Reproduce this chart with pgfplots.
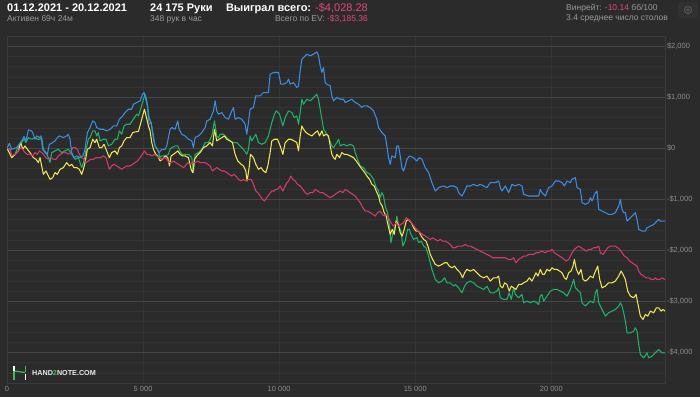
\documentclass[border=0pt]{standalone}
\usepackage{pgfplots}
\pgfplotsset{compat=1.18}
\usepackage{fontspec}
\setmainfont{Liberation Sans}
\definecolor{bg}{HTML}{2B2B2B}
\definecolor{minorc}{HTML}{333333}
\definecolor{majc}{HTML}{464646}
\definecolor{zeroc}{HTML}{7E7E7E}
\definecolor{vgrid}{HTML}{353535}
\definecolor{framec}{HTML}{3A3A3A}
\definecolor{sub}{HTML}{9A9A9A}
\definecolor{tickc}{HTML}{8C8C8C}
\definecolor{neg}{HTML}{E8457A}
\definecolor{cblue}{HTML}{3A8EE6}
\definecolor{cgreen}{HTML}{1DB36B}
\definecolor{cyellow}{HTML}{F2E94E}
\definecolor{cpink}{HTML}{D63A6A}
\definecolor{logogreen}{HTML}{3DBE4E}
\begin{document}
\begin{tikzpicture}[x=1pt,y=1pt]
\useasboundingbox (0,0) rectangle (700,397);
\fill[bg] (0,0) rectangle (700,397);
% header
\node[anchor=base west, inner sep=0, text=white, font=\bfseries\fontsize{11}{13}\selectfont] at (7,385) {01.12.2021 - 20.12.2021};
\node[anchor=base west, inner sep=0, text=sub, font=\fontsize{8.5}{10}\selectfont] at (7,375) {Активен 69ч 24м};
\node[anchor=base west, inner sep=0, text=white, font=\bfseries\fontsize{11}{13}\selectfont] at (150,385) {24 175 Руки};
\node[anchor=base west, inner sep=0, text=sub, font=\fontsize{8.5}{10}\selectfont] at (150,375) {348 рук в час};
\node[anchor=base east, inner sep=0, text=white, font=\fontsize{11}{13}\selectfont] at (368,385) {\textbf{Выиграл всего:} \textcolor{neg}{-\$4,028.28}};
\node[anchor=base east, inner sep=0, text=sub, font=\fontsize{8.5}{10}\selectfont] at (368,375) {Всего по EV: \textcolor{neg}{-\$3,185.36}};
\node[anchor=base west, inner sep=0, text=sub, font=\fontsize{8.5}{10}\selectfont] at (566,386) {Винрейт: \textcolor{neg}{-10.14} бб/100};
\node[anchor=base west, inner sep=0, text=sub, font=\fontsize{8.5}{10}\selectfont] at (566,376) {3.4 среднее число столов};
% gear
\fill[rounded corners=2pt, fill=white, fill opacity=0.03] (678,379) rectangle (698,395);
\draw[draw=white!22!bg, line width=0.8pt] (688,387) circle (3.6);
\draw[draw=white!22!bg, line width=0.7pt] (688,387) circle (1.4);
\begin{axis}[
  at={(7pt,14pt)}, anchor=south west,
  scale only axis, width=658pt, height=347pt,
  xmin=0, xmax=24175, ymin=-4600, ymax=2200,
  axis line style={draw=framec, line width=0.6pt},
  major tick length=0pt, minor tick length=0pt,
  xtick={0,5000,10000,15000,20000},
  xticklabels={0,5 000,10 000,15 000,20 000},
  ytick={-4000,-3000,-2000,-1000,1000,2000},
  yticklabels={{-\$4,000},{-\$3,000},{-\$2,000},{-\$1,000},{\$1,000},{\$2,000}},
  extra y ticks={0},
  extra y tick labels={\$0},
  extra y tick style={grid=major, major grid style={draw=zeroc, line width=1pt}},
  minor ytick={-4600,-4400,...,2200},
  xmajorgrids, ymajorgrids, yminorgrids,
  major x grid style={draw=vgrid, line width=0.6pt},
  major y grid style={draw=majc, line width=0.9pt},
  minor y grid style={draw=minorc, line width=0.6pt},
  yticklabel pos=right,
  tick label style={text=tickc, font=\fontsize{7.5}{9}\selectfont},
  yticklabel style={anchor=west, xshift=-1.5pt},
  xticklabel style={inner sep=1pt, yshift=-2pt},
  every axis plot/.append style={line width=1.05pt, line join=round, mark=none},
  clip=true,
]
% green
\addplot[cgreen] coordinates {(0,0) (111,-20) (172,-183) (294,-118) (417,46) (539,111) (625,177) (698,111) (784,209) (907,177) (1029,209) (1115,177) (1213,177) (1274,209) (1336,-20) (1433,-85) (1519,-183) (1581,-281) (1642,-85) (1764,-52) (1887,-20) (2009,-85) (2132,-52) (2254,-20) (2377,-118) (2499,-216) (2622,-183) (2744,-379) (2830,-249) (2904,-20) (2989,177) (3051,209) (3149,340) (3234,340) (3296,242) (3357,307) (3418,144) (3540,177) (3639,177) (3724,46) (3847,78) (3969,177) (4055,177) (4129,340) (4214,275) (4300,438) (4398,471) (4520,471) (4643,569) (4766,667) (4829,634) (4927,798) (5012,961) (5074,1059) (5135,929) (5221,602) (5294,504) (5380,177) (5441,46) (5539,-20) (5625,-183) (5686,-150) (5809,-150) (5931,-118) (5992,-20) (6054,13) (6176,46) (6274,46) (6323,-20) (6421,-118) (6544,-118) (6666,-118) (6789,-183) (6850,-477) (6911,-118) (7034,-85) (7156,-20) (7279,111) (7401,111) (7524,242) (7622,536) (7707,242) (7769,209) (7830,275) (7953,275) (8075,209) (8198,144) (8320,111) (8443,111) (8565,46) (8688,-20) (8810,-118) (8871,-20) (8932,242) (8994,144) (9141,275) (9239,111) (9361,78) (9484,111) (9606,242) (9729,504) (9827,667) (9890,732) (10012,667) (10135,438) (10220,602) (10343,732) (10465,700) (10551,602) (10649,634) (10710,471) (10772,700) (10833,961) (10894,863) (11017,961) (11139,929) (11262,994) (11384,1059) (11445,961) (11507,765) (11568,569) (11629,373) (11752,275) (11813,209) (11935,46) (11997,13) (12119,111) (12181,177) (12242,46) (12364,78) (12487,46) (12609,78) (12732,46) (12793,-85) (12879,-216) (12977,-347) (13099,-379) (13222,-477) (13344,-510) (13467,-608) (13565,-772) (13650,-837) (13712,-968) (13773,-870) (13834,-935) (13895,-1131) (13981,-1262) (14054,-1524) (14104,-1851) (14177,-1655) (14263,-1524) (14324,-1328) (14385,-1524) (14471,-1622) (14544,-1917) (14630,-1818) (14716,-1589) (14790,-1589) (14816,-1655) (14938,-1786) (15061,-1753) (15122,-1851) (15220,-1818) (15306,-1917) (15392,-1949) (15490,-2113) (15612,-2374) (15735,-2570) (15857,-2636) (15980,-2603) (16078,-2538) (16163,-2636) (16286,-2636) (16408,-2701) (16470,-2669) (16592,-2734) (16715,-2832) (16813,-2701) (16898,-2636) (17021,-2603) (17143,-2636) (17266,-2701) (17388,-2734) (17511,-2766) (17633,-2701) (17756,-2832) (17878,-2832) (18001,-2799) (18062,-2734) (18123,-2930) (18246,-2962) (18368,-2962) (18454,-2832) (18528,-2962) (18613,-2734) (18675,-2864) (18797,-2930) (18920,-2864) (18981,-3028) (19104,-2995) (19226,-3028) (19348,-2995) (19471,-3028) (19532,-3060) (19593,-2897) (19655,-2864) (19718,-2995) (19840,-2897) (19963,-2799) (20085,-2766) (20208,-2766) (20330,-2799) (20453,-2832) (20575,-2897) (20698,-2766) (20820,-2570) (20881,-2734) (20943,-2766) (21065,-2832) (21126,-3028) (21249,-3093) (21371,-3028) (21433,-2995) (21555,-3028) (21616,-2832) (21678,-2766) (21739,-3028) (21861,-3158) (21984,-3289) (22106,-3224) (22229,-3191) (22351,-3158) (22474,-3093) (22535,-3028) (22596,-3093) (22658,-3224) (22719,-3387) (22780,-3616) (22903,-3616) (23025,-3584) (23086,-3518) (23148,-3584) (23209,-3845) (23270,-4041) (23393,-4107) (23515,-4009) (23576,-4107) (23699,-4074) (23821,-4009) (23944,-3943) (24066,-4009) (24175,-4009)};
% yellow
\addplot[cyellow] coordinates {(0,0) (111,-118) (172,-183) (294,-118) (417,-52) (503,111) (576,-20) (662,46) (748,-20) (846,-85) (968,-183) (1066,-216) (1152,-281) (1213,-183) (1274,-347) (1336,-510) (1433,-445) (1519,-543) (1581,-608) (1679,-576) (1764,-477) (1850,-510) (1948,-412) (2071,-379) (2193,-281) (2291,-347) (2377,-314) (2463,-379) (2561,-379) (2659,-412) (2744,-510) (2806,-412) (2867,-281) (2953,-20) (3051,13) (3149,177) (3234,111) (3296,177) (3394,13) (3479,13) (3565,78) (3663,-52) (3761,-183) (3847,-85) (3969,-52) (4055,-118) (4129,13) (4214,46) (4300,144) (4398,209) (4520,209) (4619,307) (4704,320) (4829,330) (4951,569) (5049,765) (5110,634) (5196,438) (5257,340) (5319,111) (5380,-20) (5466,-118) (5539,-150) (5625,-249) (5711,-216) (5809,-150) (5907,-183) (5968,-347) (6029,-150) (6115,-118) (6201,-85) (6274,-52) (6360,-118) (6446,-150) (6544,-150) (6666,-183) (6764,-412) (6825,-477) (6887,-216) (6973,-150) (7095,-85) (7217,13) (7340,46) (7462,111) (7548,46) (7622,373) (7707,144) (7793,177) (7891,209) (7989,242) (8075,177) (8198,144) (8283,111) (8381,-118) (8479,-249) (8602,-314) (8688,-347) (8773,-445) (8822,-641) (8896,-379) (8945,-118) (9055,-183) (9141,-314) (9239,-412) (9337,-379) (9422,-445) (9508,-477) (9582,-347) (9667,-85) (9729,144) (9827,177) (9939,177) (10037,46) (10135,-118) (10220,111) (10343,177) (10429,177) (10551,144) (10649,111) (10710,-52) (10772,242) (10833,438) (10894,373) (10992,307) (11078,275) (11200,242) (11323,307) (11409,340) (11482,242) (11568,340) (11629,242) (11727,275) (11813,242) (11874,46) (11935,-118) (11997,-183) (12058,-216) (12119,-118) (12217,-183) (12303,-85) (12389,-118) (12487,-118) (12609,-150) (12732,-183) (12830,-249) (12915,-314) (13001,-379) (13099,-445) (13222,-543) (13320,-608) (13405,-706) (13491,-739) (13565,-837) (13650,-935) (13712,-1066) (13785,-1131) (13858,-1262) (13932,-1328) (14006,-1524) (14079,-1687) (14153,-1589) (14226,-1687) (14300,-1426) (14373,-1491) (14447,-1655) (14520,-1720) (14594,-1589) (14667,-1426) (14741,-1393) (14853,-1459) (14938,-1557) (15024,-1622) (15122,-1622) (15220,-1720) (15306,-1786) (15392,-1818) (15465,-1917) (15551,-2080) (15637,-2178) (15735,-2276) (15857,-2309) (15980,-2276) (16078,-2243) (16163,-2243) (16249,-2309) (16347,-2342) (16445,-2309) (16531,-2374) (16653,-2440) (16739,-2538) (16813,-2440) (16898,-2374) (17021,-2407) (17143,-2374) (17266,-2440) (17388,-2505) (17511,-2538) (17633,-2505) (17756,-2603) (17878,-2538) (18001,-2538) (18062,-2505) (18123,-2701) (18209,-2734) (18283,-2636) (18368,-2669) (18454,-2799) (18528,-2701) (18613,-2734) (18699,-2766) (18797,-2669) (18895,-2669) (18981,-2636) (19104,-2603) (19189,-2538) (19287,-2603) (19348,-2538) (19434,-2440) (19508,-2505) (19593,-2374) (19679,-2472) (19742,-2472) (19840,-2374) (19938,-2407) (20024,-2342) (20110,-2374) (20208,-2374) (20306,-2407) (20391,-2440) (20477,-2538) (20551,-2570) (20636,-2440) (20722,-2407) (20796,-2309) (20845,-2178) (20918,-2374) (21004,-2472) (21090,-2374) (21163,-2570) (21249,-2603) (21335,-2570) (21433,-2505) (21531,-2538) (21592,-2440) (21653,-2374) (21702,-2309) (21776,-2570) (21861,-2734) (21984,-2701) (22106,-2636) (22229,-2636) (22351,-2603) (22474,-2505) (22560,-2407) (22633,-2472) (22719,-2570) (22805,-2799) (22903,-2897) (23025,-2930) (23111,-2864) (23172,-3028) (23270,-3289) (23368,-3354) (23454,-3256) (23540,-3289) (23638,-3191) (23760,-3224) (23858,-3126) (23944,-3126) (24030,-3191) (24104,-3158) (24175,-3191)};
% pink
\addplot[cpink] coordinates {(0,0) (111,-20) (172,-150) (294,-118) (417,-52) (503,13) (576,-20) (662,-85) (748,-118) (846,-118) (944,-150) (1029,-85) (1115,-118) (1189,-52) (1274,-85) (1336,-118) (1433,-183) (1519,-216) (1605,-183) (1703,-216) (1801,-216) (1887,-150) (1973,-118) (2071,-85) (2169,-85) (2254,-118) (2340,-85) (2414,13) (2499,13) (2585,-20) (2659,-118) (2744,-183) (2830,-216) (2904,-281) (2989,-249) (3075,-216) (3173,-216) (3271,-183) (3357,-183) (3443,-183) (3540,-150) (3639,-183) (3688,-281) (3761,-412) (3847,-347) (3933,-314) (4031,-347) (4129,-379) (4214,-412) (4300,-379) (4398,-347) (4520,-347) (4619,-314) (4704,-281) (4790,-249) (4890,-183) (4976,-118) (5049,-52) (5135,-118) (5221,-118) (5319,-150) (5417,-118) (5502,-150) (5588,-183) (5686,-216) (5784,-183) (5870,-216) (5956,-281) (6029,-281) (6115,-249) (6201,-281) (6299,-314) (6397,-347) (6482,-379) (6544,-347) (6642,-281) (6727,-314) (6813,-281) (6911,-281) (7009,-249) (7095,-281) (7181,-281) (7279,-281) (7377,-314) (7462,-347) (7548,-445) (7622,-412) (7707,-379) (7793,-412) (7891,-445) (7989,-445) (8075,-477) (8161,-510) (8259,-543) (8332,-510) (8406,-543) (8504,-608) (8602,-641) (8688,-608) (8773,-641) (8871,-608) (8969,-608) (9055,-706) (9141,-837) (9214,-870) (9300,-935) (9386,-1001) (9459,-1033) (9545,-968) (9631,-903) (9729,-837) (9827,-837) (9853,-804) (9939,-804) (10037,-739) (10135,-837) (10220,-739) (10282,-674) (10343,-641) (10429,-543) (10502,-608) (10588,-641) (10674,-706) (10772,-739) (10870,-804) (10955,-870) (11041,-903) (11139,-870) (11237,-870) (11323,-804) (11409,-837) (11507,-870) (11605,-870) (11690,-903) (11776,-935) (11874,-968) (11972,-935) (12058,-903) (12144,-870) (12242,-837) (12340,-870) (12425,-804) (12511,-837) (12609,-870) (12707,-903) (12793,-935) (12879,-1001) (12977,-1066) (13075,-1164) (13160,-1230) (13246,-1230) (13344,-1262) (13442,-1295) (13528,-1328) (13614,-1262) (13712,-1230) (13785,-1295) (13858,-1328) (13932,-1295) (14018,-1360) (14104,-1459) (14202,-1524) (14300,-1459) (14385,-1524) (14471,-1491) (14569,-1459) (14667,-1360) (14741,-1393) (14816,-1426) (14902,-1491) (14999,-1557) (15098,-1622) (15183,-1655) (15269,-1687) (15367,-1720) (15465,-1753) (15551,-1786) (15637,-1753) (15735,-1786) (15833,-1818) (15918,-1786) (16004,-1818) (16102,-1818) (16200,-1851) (16286,-1884) (16372,-1949) (16470,-1949) (16568,-1917) (16653,-1917) (16739,-1917) (16837,-1884) (16935,-1917) (17021,-1917) (17143,-1949) (17266,-1982) (17388,-2015) (17511,-2047) (17633,-2080) (17756,-2113) (17842,-2145) (17940,-2145) (18062,-2145) (18185,-2145) (18307,-2145) (18430,-2178) (18528,-2178) (18613,-2145) (18699,-2243) (18797,-2178) (18895,-2145) (18981,-2113) (19067,-2113) (19165,-2080) (19263,-2080) (19348,-2080) (19434,-2047) (19532,-2047) (19655,-2015) (19779,-2047) (19865,-2015) (19963,-2015) (20024,-1982) (20110,-2047) (20208,-2080) (20306,-2113) (20391,-2145) (20477,-2178) (20551,-2211) (20636,-2178) (20698,-2113) (20759,-2047) (20845,-1982) (20918,-1949) (21004,-1917) (21090,-1949) (21188,-1982) (21286,-2015) (21371,-1982) (21457,-1982) (21555,-1949) (21653,-1949) (21739,-1917) (21800,-2047) (21898,-2080) (21984,-2015) (22069,-1949) (22168,-1917) (22266,-1917) (22351,-1917) (22437,-1949) (22511,-1982) (22596,-2047) (22682,-2113) (22780,-2145) (22878,-2211) (22964,-2243) (23050,-2276) (23148,-2309) (23209,-2407) (23295,-2472) (23393,-2505) (23491,-2538) (23576,-2538) (23662,-2570) (23760,-2570) (23821,-2538) (23883,-2570) (23981,-2570) (24066,-2538) (24151,-2570) (24175,-2570)};
% blue
\addplot[cblue] coordinates {(0,0) (86,98) (172,-20) (356,13) (539,144) (625,229) (698,144) (784,360) (907,340) (968,275) (1029,177) (1090,242) (1189,209) (1250,242) (1311,-20) (1397,-85) (1483,-118) (1556,78) (1642,98) (1764,144) (1850,209) (1924,242) (2071,209) (2193,242) (2254,275) (2315,177) (2377,-85) (2463,-183) (2561,-150) (2683,-183) (2781,-150) (2867,-20) (2953,307) (3051,405) (3149,536) (3234,504) (3296,405) (3418,373) (3540,373) (3663,340) (3786,373) (3908,438) (4031,438) (4129,569) (4251,634) (4337,700) (4459,765) (4582,765) (4643,863) (4766,896) (4890,929) (4976,1059) (5037,1092) (5098,961) (5159,831) (5221,471) (5294,504) (5380,242) (5441,46) (5588,-85) (5686,-20) (5809,-20) (5870,46) (5931,209) (5992,373) (6054,405) (6176,373) (6274,536) (6323,373) (6421,275) (6544,242) (6666,177) (6789,144) (6850,13) (6911,209) (7034,242) (7156,307) (7279,405) (7340,536) (7462,569) (7585,732) (7646,929) (7707,732) (7769,667) (7891,700) (8014,602) (8136,569) (8259,732) (8320,798) (8381,569) (8504,602) (8626,569) (8749,471) (8810,275) (8871,504) (8932,765) (9055,798) (9141,1027) (9300,1027) (9422,1092) (9606,1092) (9667,1452) (9790,1485) (9853,1485) (9975,1485) (10061,1256) (10159,1256) (10282,1288) (10343,1354) (10404,1256) (10527,1288) (10649,1190) (10710,1223) (10772,1517) (10833,1746) (10894,1779) (11017,1844) (11139,1812) (11262,1844) (11384,1890) (11445,1812) (11507,1615) (11568,1485) (11629,1583) (11690,1288) (11752,1256) (11874,1223) (11935,1027) (11997,929) (12119,994) (12242,961) (12364,961) (12425,896) (12548,929) (12670,961) (12793,896) (12915,863) (13038,798) (13099,831) (13222,831) (13344,798) (13467,732) (13589,569) (13650,405) (13773,307) (13895,242) (13957,46) (14018,-183) (14079,-314) (14140,-150) (14263,-183) (14324,46) (14385,46) (14447,-150) (14508,-379) (14569,-445) (14630,-347) (14692,-216) (14790,-150) (14938,-183) (15061,-249) (15147,-183) (15245,-216) (15367,-379) (15490,-477) (15612,-674) (15735,-837) (15857,-772) (16041,-739) (16163,-772) (16286,-739) (16408,-739) (16531,-772) (16592,-870) (16715,-935) (16813,-837) (16898,-739) (17021,-739) (17143,-706) (17266,-739) (17388,-706) (17511,-739) (17633,-772) (17756,-674) (17940,-674) (18062,-641) (18123,-772) (18185,-837) (18307,-739) (18430,-870) (18552,-706) (18675,-739) (18797,-706) (18920,-739) (18981,-903) (19165,-935) (19348,-935) (19532,-935) (19593,-804) (19655,-870) (19718,-903) (19779,-935) (19901,-772) (20024,-739) (20146,-641) (20269,-641) (20391,-674) (20477,-739) (20575,-641) (20698,-674) (20759,-608) (20881,-576) (20943,-772) (21065,-804) (21126,-1066) (21249,-1099) (21371,-1066) (21433,-968) (21494,-1033) (21616,-870) (21678,-837) (21739,-1197) (21861,-1230) (21984,-1262) (22106,-1295) (22229,-1295) (22351,-1262) (22474,-1131) (22535,-1001) (22596,-1197) (22658,-1262) (22719,-1262) (22780,-1426) (22903,-1360) (23025,-1295) (23086,-1262) (23148,-1393) (23209,-1589) (23331,-1622) (23454,-1622) (23515,-1557) (23638,-1524) (23760,-1491) (23883,-1426) (23944,-1393) (24005,-1426) (24175,-1426)};
\end{axis}
% logo
\draw[white, line width=1.4pt] (14,31.5) -- (14,26.5);
\draw[logogreen, line width=1.4pt] (14,26.5) -- (14,17.5);
\draw[logogreen, line width=1.4pt] (25.5,31.5) -- (25.5,25.5);
\draw[white, line width=1.4pt] (25.5,23.5) -- (25.5,17);
\draw[logogreen, line width=1.2pt] (14.5,26) -- (25,24.5);
\node[anchor=base west, inner sep=0, text=white!92!black, font=\bfseries\fontsize{7.2}{8}\selectfont] at (32,21.5) {HAND\textcolor{logogreen}{2}NOTE.COM};
\end{tikzpicture}
\end{document}
